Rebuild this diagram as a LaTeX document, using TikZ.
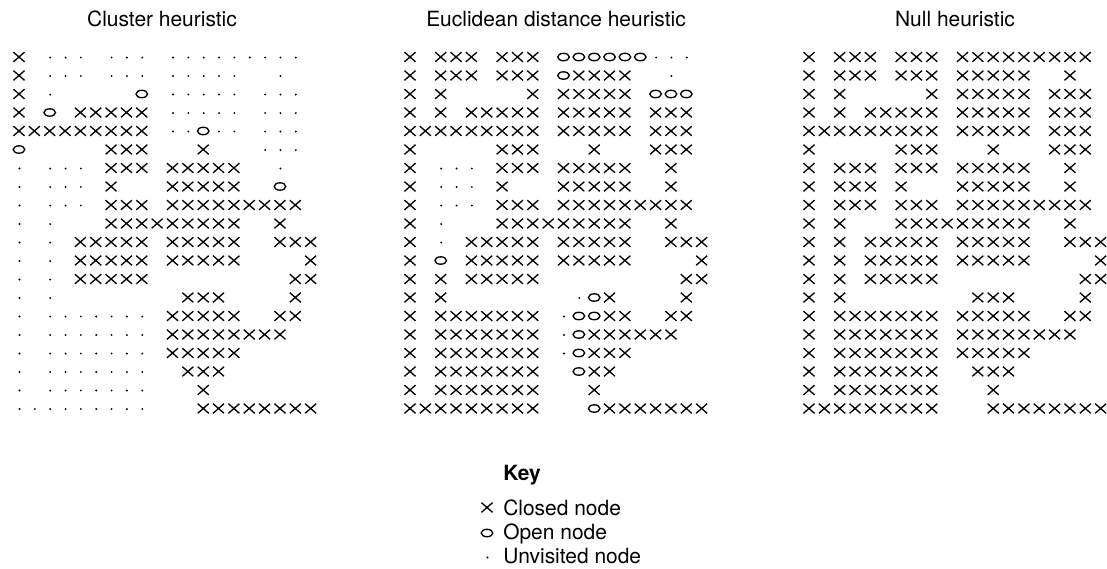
\documentclass[tikz,border=0pt]{standalone}
\usepackage{fontspec}
\setmainfont{TeX Gyre Heros}
\usetikzlibrary{positioning}

% cell pitch of the search grids (picture units = pixels)
\newcommand{\cellw}{15.35}
\newcommand{\cellh}{18.5}

% one 20x20 grid: x = closed, o = open, d = unvisited, - = wall
\newcommand{\mazegrid}[1]{%
  \foreach \cells [count=\r from 0] in {#1}{
    \foreach \c [count=\k from 0] in \cells {
      \if\c x\pic at (\k*\cellw,\r*\cellh) {closed};\fi
      \if\c o\pic at (\k*\cellw,\r*\cellh) {open};\fi
      \if\c d\pic at (\k*\cellw,\r*\cellh) {unvisited};\fi
    }
  }%
}

\begin{document}
\begin{tikzpicture}[
  x=0.025cm, y=-0.025cm,
  font=\fontsize{14.9}{17.9}\selectfont,
  %--- glyph styles ---
  glyph/.style  ={draw=black,line width=0.95pt},
  closed/.pic   ={\draw[glyph] (-5.5,-4.8) -- (5.5,4.8) (-5.5,4.8) -- (5.5,-4.8);},
  open/.pic     ={\draw[glyph] (0,0) ellipse [x radius=5.8, y radius=3.7];},
  unvisited/.pic={\fill[black] (0.5,0.5) circle [radius=1.05];},
  %--- text styles ---
  heading/.style={anchor=base,inner sep=0pt,text=black},
  keytext/.style={anchor=base west,inner sep=0pt,text=black},
]
\useasboundingbox (0,0) rectangle (1107,568);

%==================== titles ====================
\node[heading] (tclust) at (162,26) {Cluster heuristic};
\node[heading] (teucl)  at (556,26) {Euclidean distance heuristic};
\node[heading] (tnull)  at (955,26) {Null heuristic};

%==================== cluster heuristic ====================
\begin{scope}[shift={(19,57)}]
\mazegrid{
  {x,-,d,d,d,-,d,d,d,-,d,d,d,d,d,d,d,d,d,-},
  {x,-,d,d,d,-,d,d,d,-,d,d,d,d,d,-,-,d,-,-},
  {x,-,d,-,-,-,-,-,o,-,d,d,d,d,d,-,d,d,d,-},
  {x,-,o,-,x,x,x,x,x,-,d,d,d,d,d,-,d,d,d,-},
  {x,x,x,x,x,x,x,x,x,-,d,d,o,d,d,-,d,d,d,-},
  {o,-,-,-,-,-,x,x,x,-,-,-,x,-,-,-,d,d,d,-},
  {d,-,d,d,d,-,x,x,x,-,x,x,x,x,x,-,-,d,-,-},
  {d,-,d,d,d,-,x,-,-,-,x,x,x,x,x,-,-,o,-,-},
  {d,-,d,d,d,-,x,x,x,-,x,x,x,x,x,x,x,x,x,-},
  {d,-,d,-,-,-,x,x,x,x,x,x,x,x,x,-,-,x,-,-},
  {d,-,d,-,x,x,x,x,x,-,x,x,x,x,x,-,-,x,x,x},
  {d,-,d,-,x,x,x,x,x,-,x,x,x,x,x,-,-,-,-,x},
  {d,-,d,-,x,x,x,x,x,-,-,-,-,-,-,-,-,-,x,x},
  {d,-,d,-,-,-,-,-,-,-,-,x,x,x,-,-,-,-,x,-},
  {d,-,d,d,d,d,d,d,d,-,x,x,x,x,x,-,-,x,x,-},
  {d,-,d,d,d,d,d,d,d,-,x,x,x,x,x,x,x,x,-,-},
  {d,-,d,d,d,d,d,d,d,-,x,x,x,x,x,-,-,-,-,-},
  {d,-,d,d,d,d,d,d,d,-,-,x,x,x,-,-,-,-,-,-},
  {d,-,d,d,d,d,d,d,d,-,-,-,x,-,-,-,-,-,-,-},
  {d,d,d,d,d,d,d,d,d,-,-,-,x,x,x,x,x,x,x,x}}
\end{scope}

%==================== euclidean distance heuristic ====================
\begin{scope}[shift={(410,57)}]
\mazegrid{
  {x,-,x,x,x,-,x,x,x,-,o,o,o,o,o,o,d,d,d,-},
  {x,-,x,x,x,-,x,x,x,-,o,x,x,x,x,-,-,d,-,-},
  {x,-,x,-,-,-,-,-,x,-,x,x,x,x,x,-,o,o,o,-},
  {x,-,x,-,x,x,x,x,x,-,x,x,x,x,x,-,x,x,x,-},
  {x,x,x,x,x,x,x,x,x,-,x,x,x,x,x,-,x,x,x,-},
  {x,-,-,-,-,-,x,x,x,-,-,-,x,-,-,-,x,x,x,-},
  {x,-,d,d,d,-,x,x,x,-,x,x,x,x,x,-,-,x,-,-},
  {x,-,d,d,d,-,x,-,-,-,x,x,x,x,x,-,-,x,-,-},
  {x,-,d,d,d,-,x,x,x,-,x,x,x,x,x,x,x,x,x,-},
  {x,-,d,-,-,-,x,x,x,x,x,x,x,x,x,-,-,x,-,-},
  {x,-,d,-,x,x,x,x,x,-,x,x,x,x,x,-,-,x,x,x},
  {x,-,o,-,x,x,x,x,x,-,x,x,x,x,x,-,-,-,-,x},
  {x,-,x,-,x,x,x,x,x,-,-,-,-,-,-,-,-,-,x,x},
  {x,-,x,-,-,-,-,-,-,-,-,d,o,x,-,-,-,-,x,-},
  {x,-,x,x,x,x,x,x,x,-,d,o,o,x,x,-,-,x,x,-},
  {x,-,x,x,x,x,x,x,x,-,d,o,x,x,x,x,x,x,-,-},
  {x,-,x,x,x,x,x,x,x,-,d,o,x,x,x,-,-,-,-,-},
  {x,-,x,x,x,x,x,x,x,-,-,o,x,x,-,-,-,-,-,-},
  {x,-,x,x,x,x,x,x,x,-,-,-,x,-,-,-,-,-,-,-},
  {x,x,x,x,x,x,x,x,x,-,-,-,o,x,x,x,x,x,x,x}}
\end{scope}

%==================== null heuristic ====================
\begin{scope}[shift={(809,57)}]
\mazegrid{
  {x,-,x,x,x,-,x,x,x,-,x,x,x,x,x,x,x,x,x,-},
  {x,-,x,x,x,-,x,x,x,-,x,x,x,x,x,-,-,x,-,-},
  {x,-,x,-,-,-,-,-,x,-,x,x,x,x,x,-,x,x,x,-},
  {x,-,x,-,x,x,x,x,x,-,x,x,x,x,x,-,x,x,x,-},
  {x,x,x,x,x,x,x,x,x,-,x,x,x,x,x,-,x,x,x,-},
  {x,-,-,-,-,-,x,x,x,-,-,-,x,-,-,-,x,x,x,-},
  {x,-,x,x,x,-,x,x,x,-,x,x,x,x,x,-,-,x,-,-},
  {x,-,x,x,x,-,x,-,-,-,x,x,x,x,x,-,-,x,-,-},
  {x,-,x,x,x,-,x,x,x,-,x,x,x,x,x,x,x,x,x,-},
  {x,-,x,-,-,-,x,x,x,x,x,x,x,x,x,-,-,x,-,-},
  {x,-,x,-,x,x,x,x,x,-,x,x,x,x,x,-,-,x,x,x},
  {x,-,x,-,x,x,x,x,x,-,x,x,x,x,x,-,-,-,-,x},
  {x,-,x,-,x,x,x,x,x,-,-,-,-,-,-,-,-,-,x,x},
  {x,-,x,-,-,-,-,-,-,-,-,x,x,x,-,-,-,-,x,-},
  {x,-,x,x,x,x,x,x,x,-,x,x,x,x,x,-,-,x,x,-},
  {x,-,x,x,x,x,x,x,x,-,x,x,x,x,x,x,x,x,-,-},
  {x,-,x,x,x,x,x,x,x,-,x,x,x,x,x,-,-,-,-,-},
  {x,-,x,x,x,x,x,x,x,-,-,x,x,x,-,-,-,-,-,-},
  {x,-,x,x,x,x,x,x,x,-,-,-,x,-,-,-,-,-,-,-},
  {x,x,x,x,x,x,x,x,x,-,-,-,x,x,x,x,x,x,x,x}}
\end{scope}

%==================== key ====================
\node[keytext] (keyhead)   at (503,480) {\bfseries Key};
\node[keytext] (keyclosed) at (503,515) {Closed node};
\node[keytext] (keyopen)   at (503,539) {Open node};
\node[keytext] (keyunvis)  at (503,563) {Unvisited node};
\pic at (487,507.5) {closed};
\pic at (487,533)   {open};
\pic at (487,557)   {unvisited};

\end{tikzpicture}
\end{document}
